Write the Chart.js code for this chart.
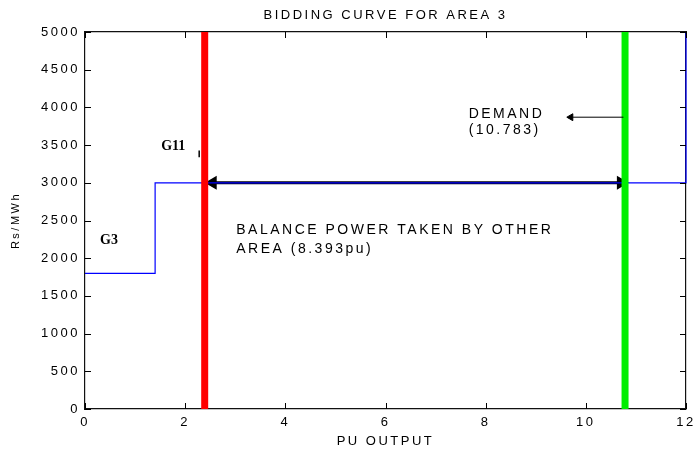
<!DOCTYPE html>
<html>
<head>
<meta charset="utf-8">
<script src="https://cdn.jsdelivr.net/npm/chart.js@4.4.0/dist/chart.umd.min.js"></script>
<style>
  html, body { margin: 0; padding: 0; background: #fff; }
</style>
</head>
<body>
<canvas id="bidChart" width="697" height="449"></canvas>
<script>
// bidding curve (step) for area 3
const stepX = [0, 1.4, 1.4, 12, 12];
const stepY = [1800, 1800, 3000, 3000, 5000];

// vertical markers
const g11Output = 2.39;      // red line
const demandOutput = 10.783; // green line

// balance power arrow (8.393 pu between the two lines)
const balanceArrowX = [2.55, 10.7];
const balanceArrowY = [3000, 3000];

// demand pointer arrow
const demandArrowX = [10.75, 9.7];
const demandArrowY = [3870, 3870];

// small mark near G11
const g11MarkX = [2.28, 2.28];
const g11MarkY = [3340, 3430];

const xTickValues = [0, 2, 4, 6, 8, 10, 12];
const yTickValues = [0, 500, 1000, 1500, 2000, 2500, 3000, 3500, 4000, 4500, 5000];

const FONT = "'Liberation Sans', Arial, sans-serif";
const AXIS = '#111';

function pts(xs, ys) {
    return xs.map((x, i) => ({ x: x, y: ys[i] }));
}

const axisBorder = { display: true, color: AXIS, width: 1.2 };
const noGrid = { display: false, drawTicks: false };

const ctx = document.getElementById('bidChart').getContext('2d');

// inward tick marks on all four sides
const tickPlugin = {
    id: 'innerTicks',
    afterDatasetsDraw(chart) {
        const c = chart.ctx;
        const a = chart.chartArea;
        const xs = chart.scales.x;
        const ys = chart.scales.y;
        c.save();
        c.letterSpacing = '0px';
        c.strokeStyle = '#000';
        c.lineWidth = 1;
        c.setLineDash([]);
        c.beginPath();
        for (const v of xTickValues) {
            const px = Math.round(xs.getPixelForValue(v)) + 0.5;
            c.moveTo(px, a.bottom);
            c.lineTo(px, a.bottom - 6);
            c.moveTo(px, a.top);
            c.lineTo(px, a.top + 6);
        }
        for (const v of yTickValues) {
            const py = Math.round(ys.getPixelForValue(v)) + 0.5;
            c.moveTo(a.left, py);
            c.lineTo(a.left + 6, py);
            c.moveTo(a.right, py);
            c.lineTo(a.right - 6, py);
        }
        c.stroke();
        c.restore();
    }
};

// text annotations
const labelPlugin = {
    id: 'labels',
    beforeDraw(chart) {
        chart.ctx.letterSpacing = '2.5px';
    },
    afterDraw(chart) {
        const c = chart.ctx;
        const xs = chart.scales.x;
        const ys = chart.scales.y;
        c.save();
        c.fillStyle = '#000';
        c.textBaseline = 'middle';
        c.textAlign = 'left';
        c.letterSpacing = '0px';
        c.font = 'bold 14px "Liberation Serif", "DejaVu Serif", serif';
        c.fillText('G3', xs.getPixelForValue(0.3), ys.getPixelForValue(2234));
        c.fillText('G11', xs.getPixelForValue(1.52), ys.getPixelForValue(3484));

        c.letterSpacing = '2.5px';
        c.font = '14px ' + FONT;
        c.fillText('DEMAND', xs.getPixelForValue(7.66), ys.getPixelForValue(3915));
        c.fillText('(10.783)', xs.getPixelForValue(7.66), ys.getPixelForValue(3700));
        c.fillText('BALANCE POWER TAKEN BY OTHER', xs.getPixelForValue(3.02), ys.getPixelForValue(2367));
        c.fillText('AREA (8.393pu)', xs.getPixelForValue(3.02), ys.getPixelForValue(2114));
        c.restore();
    }
};

new Chart(ctx, {
    type: 'line',
    data: {
        datasets: [
            {
                label: 'Bidding curve',
                data: pts(stepX, stepY),
                borderColor: '#0000ff',
                borderWidth: 1.2,
                pointRadius: 0,
                clip: false,
                order: 3
            },
            {
                label: 'Balance power',
                data: pts(balanceArrowX, balanceArrowY),
                borderColor: '#000',
                backgroundColor: '#000',
                borderWidth: 3,
                pointStyle: 'triangle',
                pointRadius: 5,
                pointRotation: [-90, 90],
                order: 4
            },
            {
                label: 'G11',
                data: pts([g11Output, g11Output], [0, 5000]),
                borderColor: '#ff0000',
                borderWidth: 7,
                pointRadius: 0,
                order: 1
            },
            {
                label: 'Demand',
                data: pts([demandOutput, demandOutput], [0, 5000]),
                borderColor: '#00ee00',
                borderWidth: 7,
                pointRadius: 0,
                order: 1
            },
            {
                label: 'Demand pointer',
                data: pts(demandArrowX, demandArrowY),
                borderColor: '#000',
                backgroundColor: '#000',
                borderWidth: 1,
                pointStyle: 'triangle',
                pointRadius: [0, 4],
                pointRotation: [0, -90],
                order: 0
            },
            {
                label: 'G11 mark',
                data: pts(g11MarkX, g11MarkY),
                borderColor: '#000',
                borderWidth: 1.5,
                pointRadius: 0,
                order: 0
            }
        ]
    },
    options: {
        responsive: false,
        animation: false,
        layout: { padding: { left: 0, right: 11, top: 0, bottom: 0 } },
        plugins: {
            legend: { display: false },
            tooltip: { enabled: false },
            title: {
                display: true,
                fullSize: false,
                text: 'BIDDING CURVE FOR AREA 3',
                color: '#000',
                font: { family: FONT, size: 13, weight: 'normal', lineHeight: 1.2 },
                padding: { top: 8, bottom: 8.4 }
            }
        },
        scales: {
            x: {
                type: 'linear',
                min: 0,
                max: 12,
                afterFit(s) { s.height = 40; s.paddingLeft = 0; s.paddingRight = 0; },
                afterBuildTicks(s) { s.ticks = xTickValues.map(v => ({ value: v })); },
                grid: noGrid,
                border: axisBorder,
                ticks: {
                    color: '#000', padding: 6, maxRotation: 0,
                    font: { family: FONT, size: 13 },
                    callback: v => String(v)
                },
                title: {
                    display: true,
                    text: 'PU OUTPUT',
                    color: '#000',
                    font: { family: FONT, size: 13 },
                    padding: { top: 0, bottom: 0 }
                }
            },
            x2: {
                type: 'linear',
                position: 'top',
                min: 0,
                max: 12,
                afterFit(s) { s.height = 0; s.paddingLeft = 0; s.paddingRight = 0; },
                grid: noGrid,
                border: axisBorder,
                ticks: { display: false }
            },
            y: {
                type: 'linear',
                min: 0,
                max: 5000,
                afterFit(s) { s.width = 85; s.paddingTop = 0; s.paddingBottom = 0; },
                afterBuildTicks(s) { s.ticks = yTickValues.map(v => ({ value: v })); },
                grid: noGrid,
                border: axisBorder,
                ticks: {
                    color: '#000', padding: 5,
                    font: { family: FONT, size: 13 },
                    callback: v => String(v)
                },
                title: {
                    display: true,
                    text: 'Rs/MWh',
                    color: '#000',
                    font: { family: FONT, size: 11 },
                    padding: { top: 9, bottom: 0 }
                }
            },
            y2: {
                type: 'linear',
                position: 'right',
                min: 0,
                max: 5000,
                afterFit(s) { s.width = 0; s.paddingTop = 0; s.paddingBottom = 0; },
                grid: noGrid,
                border: axisBorder,
                ticks: { display: false }
            }
        }
    },
    plugins: [tickPlugin, labelPlugin]
});
</script>
</body>
</html>
